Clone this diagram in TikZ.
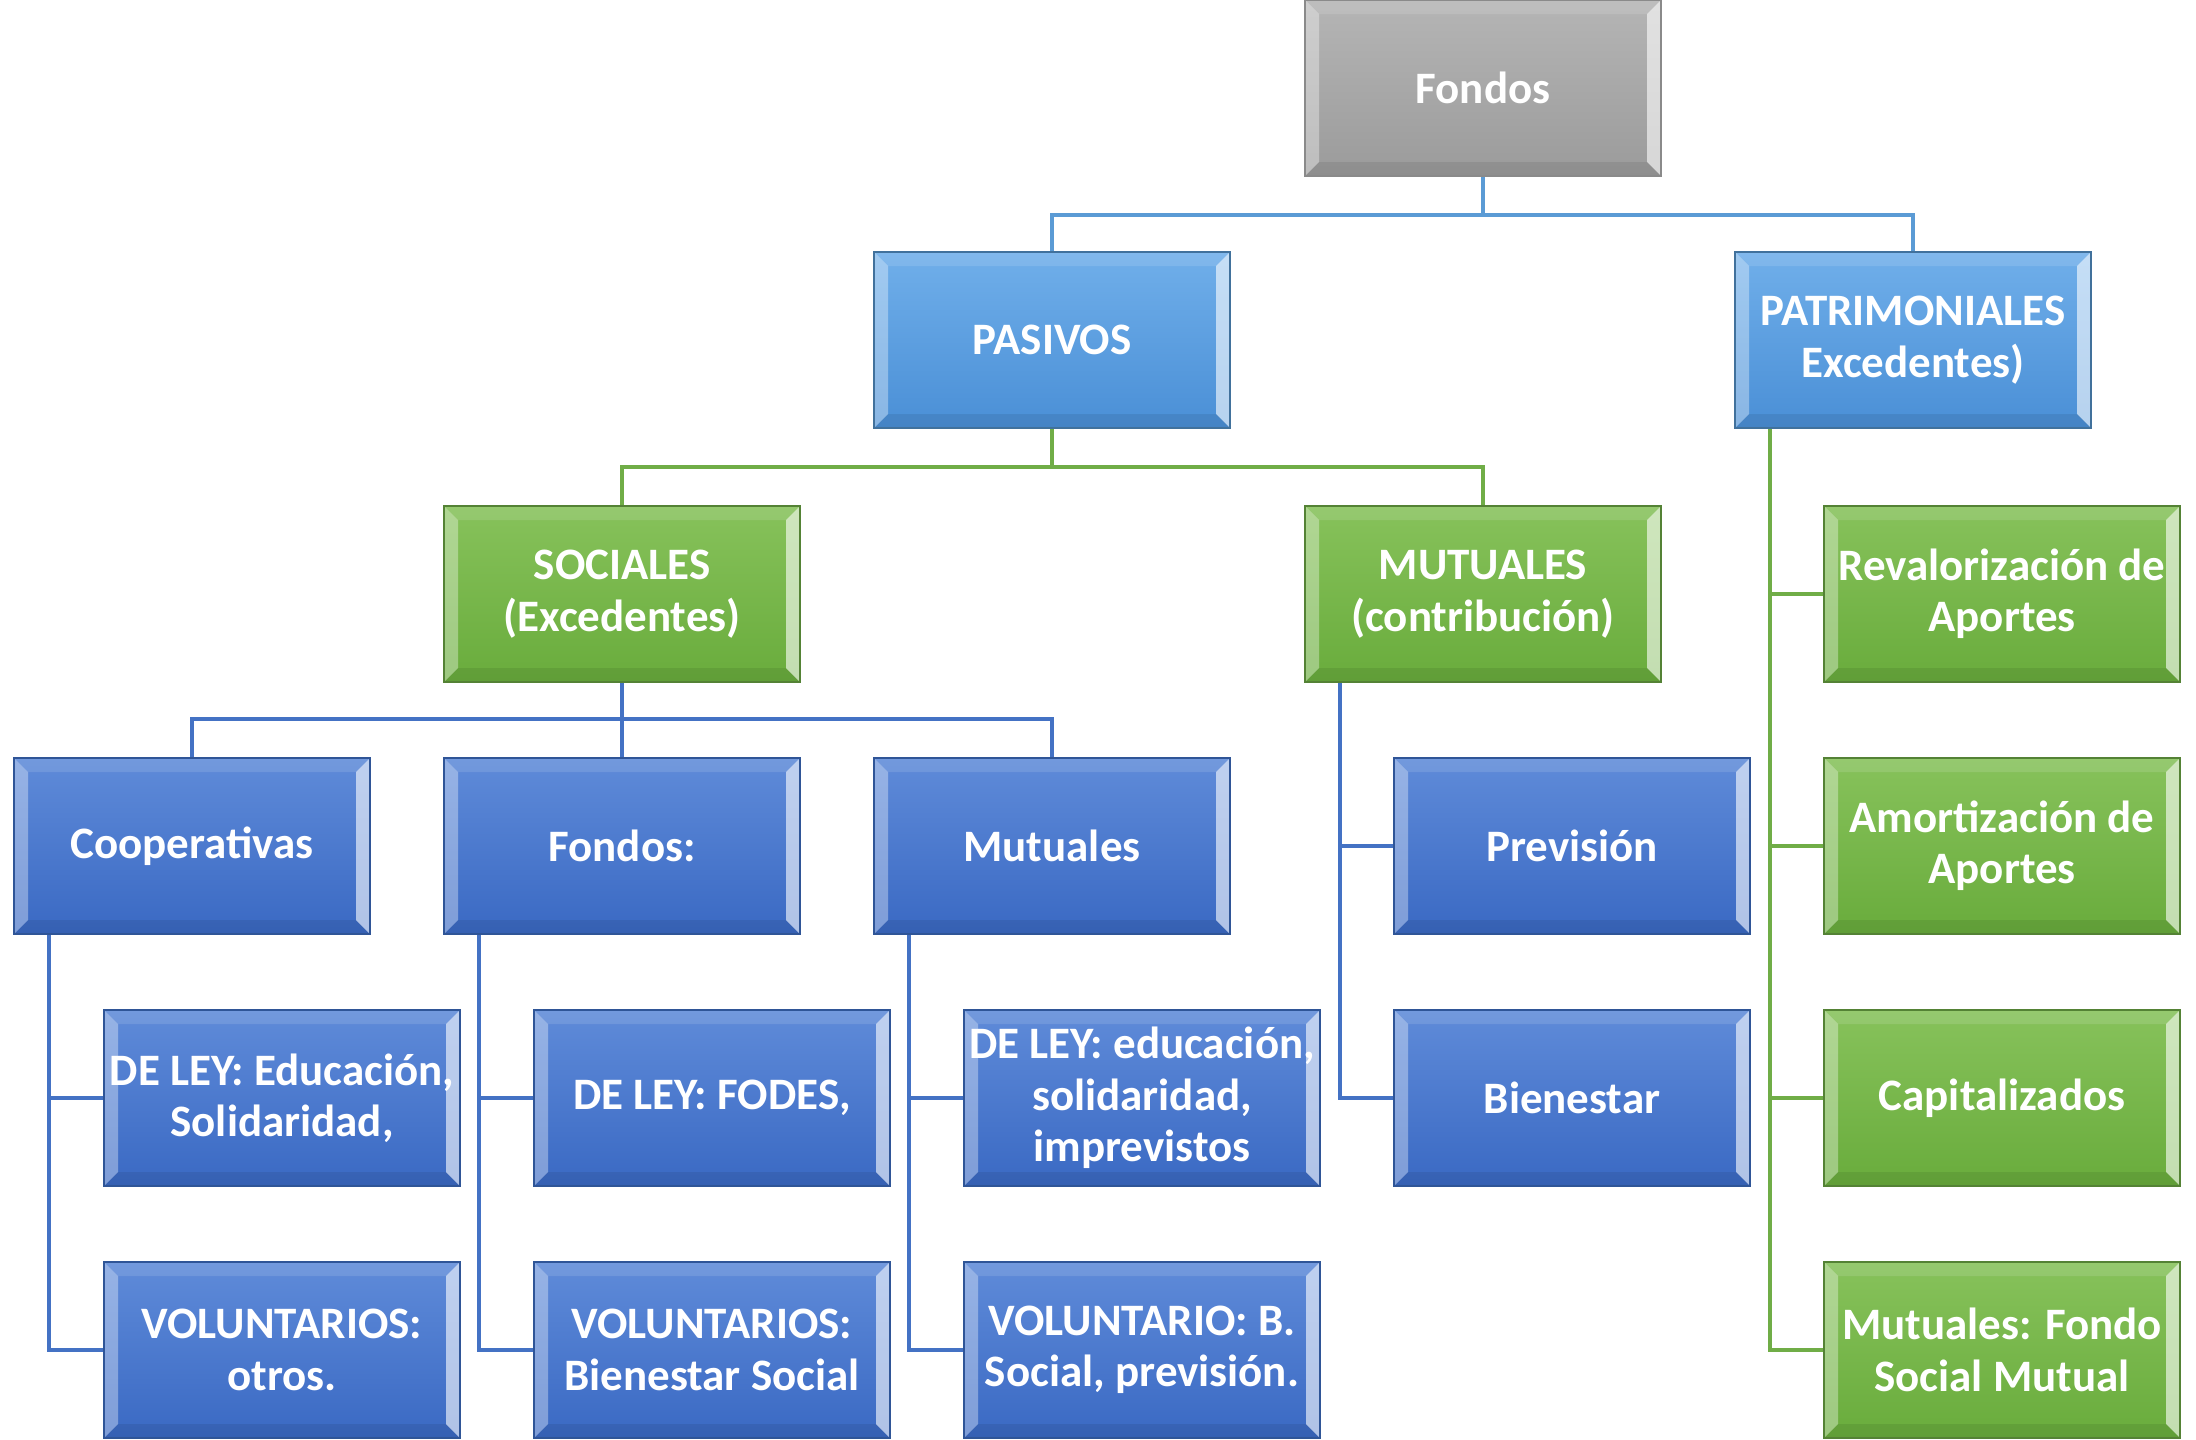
\documentclass[tikz,border=0pt]{standalone}
\usepackage{fontspec}
\setmainfont{Carlito}
\usetikzlibrary{calc}

\definecolor{grisA}{HTML}{B5B5B5}
\definecolor{grisB}{HTML}{9B9B9B}
\definecolor{grisC}{HTML}{8A8A8A}
\definecolor{celesteA}{HTML}{70AFEA}
\definecolor{celesteB}{HTML}{4A8FD6}
\definecolor{celesteC}{HTML}{41719C}
\definecolor{verdeA}{HTML}{87C25B}
\definecolor{verdeB}{HTML}{69AC3C}
\definecolor{verdeC}{HTML}{548235}
\definecolor{azulA}{HTML}{5F8BD9}
\definecolor{azulB}{HTML}{3A69C3}
\definecolor{azulC}{HTML}{2F5597}
\definecolor{lineaceleste}{HTML}{5B9BD5}
\definecolor{lineaverde}{HTML}{70AD47}
\definecolor{lineaazul}{HTML}{4472C4}

\tikzset{
  caja/.style={draw, minimum width=3.56cm, minimum height=1.76cm, inner xsep=0pt,
    align=center, text=white, line width=0.6pt,
    font=\bfseries\fontsize{12.8}{14.6}\selectfont,
    path picture={
      \fill[white,opacity=.35] (path picture bounding box.north west) -- (path picture bounding box.south west)
        -- ([shift={(.14,.14)}]path picture bounding box.south west) -- ([shift={(.14,-.14)}]path picture bounding box.north west) -- cycle;
      \fill[white,opacity=.6] (path picture bounding box.north east) -- (path picture bounding box.south east)
        -- ([shift={(-.14,.14)}]path picture bounding box.south east) -- ([shift={(-.14,-.14)}]path picture bounding box.north east) -- cycle;
      \fill[white,opacity=.12] (path picture bounding box.north west) -- (path picture bounding box.north east)
        -- ([shift={(-.14,-.14)}]path picture bounding box.north east) -- ([shift={(.14,-.14)}]path picture bounding box.north west) -- cycle;
      \fill[black,opacity=.08] (path picture bounding box.south west) -- (path picture bounding box.south east)
        -- ([shift={(-.14,.14)}]path picture bounding box.south east) -- ([shift={(.14,.14)}]path picture bounding box.south west) -- cycle;
    }},
  gris/.style={caja, draw=grisC, top color=grisA, bottom color=grisB},
  celeste/.style={caja, draw=celesteC, top color=celesteA, bottom color=celesteB},
  verde/.style={caja, draw=verdeC, top color=verdeA, bottom color=verdeB},
  azul/.style={caja, draw=azulC, top color=azulA, bottom color=azulB},
  rama/.style={line width=0.9pt}
}

\begin{document}
\begin{tikzpicture}
\useasboundingbox (0,0) rectangle (21.96,-14.40);

\node[gris] (fondos) at (14.83,-0.88) {Fondos};
\node[celeste] (pasivos) at (10.52,-3.40) {PASIVOS};
\node[celeste] (patri) at (19.13,-3.40) {PATRIMONIALES\\Excedentes)};
\node[verde] (sociales) at (6.22,-5.94) {SOCIALES\\(Excedentes)};
\node[verde] (mutuales) at (14.83,-5.94) {MUTUALES\\(contribución)};

\node[azul] (coop) at (1.92,-8.46) {Cooperativas};
\node[azul] (fondosb) at (6.22,-8.46) {Fondos:};
\node[azul] (mutb) at (10.52,-8.46) {Mutuales};
\node[azul] (prev) at (15.72,-8.46) {Previsión};
\node[azul] (bien) at (15.72,-10.98) {Bienestar};

\node[azul] (leycoop) at (2.82,-10.98) {DE LEY: Educación,\\Solidaridad,};
\node[azul] (volcoop) at (2.82,-13.50) {VOLUNTARIOS:\\otros.};
\node[azul] (leyfondos) at (7.12,-10.98) {DE LEY: FODES,};
\node[azul] (volfondos) at (7.12,-13.50) {VOLUNTARIOS:\\Bienestar Social};
\node[azul] (leymut) at (11.42,-10.98) {DE LEY: educación,\\solidaridad,\\imprevistos};
\node[azul] (volmut) at (11.42,-13.50) {VOLUNTARIO: B.\\Social, previsión.};

\node[verde] (reval) at (20.02,-5.94) {Revalorización de\\Aportes};
\node[verde] (amort) at (20.02,-8.46) {Amortización de\\Aportes};
\node[verde] (capit) at (20.02,-10.98) {Capitalizados};
\node[verde] (mutfondo) at (20.02,-13.50) {Mutuales: Fondo\\Social Mutual};

\draw[rama,lineaceleste] (fondos.south) -- ++(0,-0.38) -| (pasivos.north);
\draw[rama,lineaceleste] (fondos.south) -- ++(0,-0.38) -| (patri.north);
\draw[rama,lineaverde] (pasivos.south) -- ++(0,-0.38) -| (sociales.north);
\draw[rama,lineaverde] (pasivos.south) -- ++(0,-0.38) -| (mutuales.north);
\draw[rama,lineaazul] (sociales.south) -- ++(0,-0.36) -| (coop.north);
\draw[rama,lineaazul] (sociales.south) -- ++(0,-0.36) -| (fondosb.north);
\draw[rama,lineaazul] (sociales.south) -- ++(0,-0.36) -| (mutb.north);

\draw[rama,lineaazul] ([xshift=0.36cm]coop.south west) |- (leycoop.west);
\draw[rama,lineaazul] ([xshift=0.36cm]coop.south west) |- (volcoop.west);
\draw[rama,lineaazul] ([xshift=0.36cm]fondosb.south west) |- (leyfondos.west);
\draw[rama,lineaazul] ([xshift=0.36cm]fondosb.south west) |- (volfondos.west);
\draw[rama,lineaazul] ([xshift=0.36cm]mutb.south west) |- (leymut.west);
\draw[rama,lineaazul] ([xshift=0.36cm]mutb.south west) |- (volmut.west);
\draw[rama,lineaazul] ([xshift=0.36cm]mutuales.south west) |- (prev.west);
\draw[rama,lineaazul] ([xshift=0.36cm]mutuales.south west) |- (bien.west);

\draw[rama,lineaverde] ([xshift=0.36cm]patri.south west) |- (reval.west);
\draw[rama,lineaverde] ([xshift=0.36cm]patri.south west) |- (amort.west);
\draw[rama,lineaverde] ([xshift=0.36cm]patri.south west) |- (capit.west);
\draw[rama,lineaverde] ([xshift=0.36cm]patri.south west) |- (mutfondo.west);
\end{tikzpicture}
\end{document}
